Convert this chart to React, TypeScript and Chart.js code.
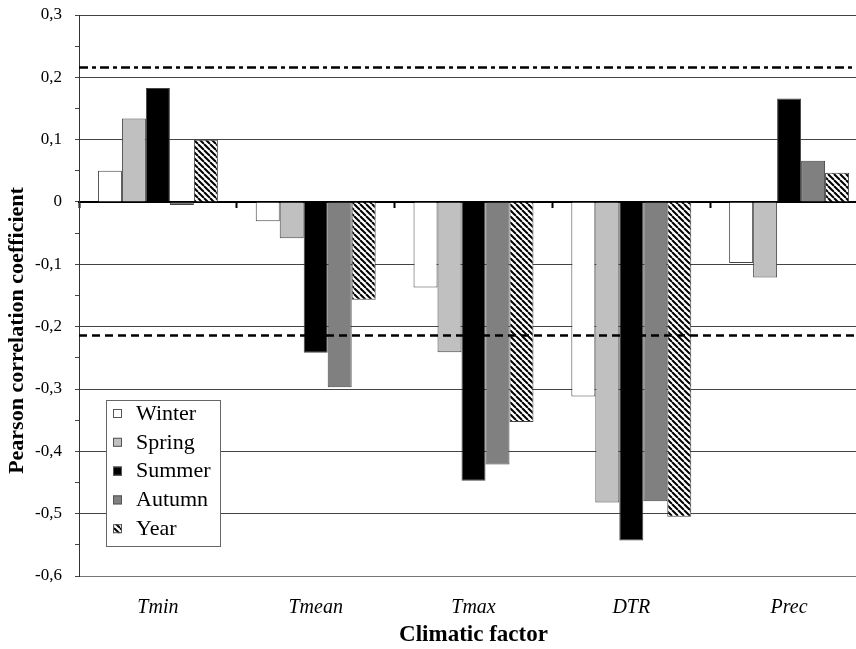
import React, { useEffect, useRef } from 'react';
import { Chart, registerables } from 'chart.js';
Chart.register(...registerables);

const categories = ['Tmin', 'Tmean', 'Tmax', 'DTR', 'Prec'];
const seriesNames = ['Winter', 'Spring', 'Summer', 'Autumn', 'Year'];
const winter = [0.05, -0.031, -0.137, -0.312, -0.098];
const spring = [0.134, -0.058, -0.241, -0.482, -0.121];
const summer = [0.183, -0.242, -0.447, -0.543, 0.166];
const autumn = [-0.005, -0.297, -0.421, -0.48, 0.066];
const year = [0.1, -0.157, -0.353, -0.505, 0.047];
const significance = [0.217, -0.214];
const yMin = -0.6;
const yMax = 0.3;
const yStep = 0.05;
const yTitle = 'Pearson correlation coefficient';
const xTitle = 'Climatic factor';

const SERIF = '"Liberation Serif", "Times New Roman", serif';

function makeHatch(): CanvasPattern | string {
  const s = 6;
  const c = document.createElement('canvas');
  c.width = s;
  c.height = s;
  const g = c.getContext('2d');
  if (!g) return '#fff';
  g.fillStyle = '#fff';
  g.fillRect(0, 0, s, s);
  g.strokeStyle = '#000';
  g.lineWidth = 2;
  for (const x0 of [-s, 0, s]) {
    g.beginPath();
    g.moveTo(x0, 0);
    g.lineTo(x0 + s, s);
    g.stroke();
  }
  const p = g.createPattern(c, 'repeat');
  return p || '#fff';
}

const isTenth = (v: number) => Math.abs(v * 10 - Math.round(v * 10)) < 1e-6;

export default function App() {
  const ref = useRef<HTMLCanvasElement | null>(null);
  useEffect(() => {
    if (!ref.current) return;
    const hatch = makeHatch();
    const fills = ['#ffffff', '#c0c0c0', '#000000', '#808080', hatch];
    const values = [winter, spring, summer, autumn, year];

    const refLines = {
      id: 'refLines',
      afterDatasetsDraw(chart: any) {
        const { ctx, chartArea, scales } = chart;
        ctx.save();
        ctx.strokeStyle = '#000';
        ctx.lineWidth = 2.5;
        significance.forEach((v, i) => {
          ctx.setLineDash(i === 0 ? [9, 4, 4, 4] : [8, 5]);
          const y = Math.round(scales.y.getPixelForValue(v)) + 0.5;
          ctx.beginPath();
          ctx.moveTo(chartArea.left, y);
          ctx.lineTo(chartArea.right, y);
          ctx.stroke();
        });
        ctx.restore();
      },
    };

    const yTitlePlugin = {
      id: 'yTitlePlugin',
      afterDraw(chart: any) {
        const { ctx, chartArea } = chart;
        ctx.save();
        ctx.translate(17, (chartArea.top + chartArea.bottom) / 2 + 35);
        ctx.rotate(-Math.PI / 2);
        ctx.font = 'bold 22px ' + SERIF;
        ctx.fillStyle = '#000';
        ctx.textAlign = 'center';
        ctx.textBaseline = 'middle';
        ctx.fillText(yTitle, 0, 0);
        ctx.restore();
      },
    };

    const boxLegend = {
      id: 'boxLegend',
      afterDraw(chart: any) {
        const { ctx, chartArea } = chart;
        const x = chartArea.left + 27;
        const y = chartArea.bottom - 176;
        const w = 114;
        const h = 146;
        ctx.save();
        ctx.fillStyle = '#fff';
        ctx.fillRect(x, y, w, h);
        ctx.strokeStyle = '#666';
        ctx.lineWidth = 1;
        ctx.strokeRect(x + 0.5, y + 0.5, w, h);
        ctx.font = '22px ' + SERIF;
        ctx.textBaseline = 'middle';
        chart.data.datasets.forEach((ds: any, i: number) => {
          const cy = y + 13 + i * 28.8;
          ctx.fillStyle = ds.backgroundColor;
          ctx.fillRect(x + 7, cy - 4, 9, 9);
          ctx.strokeStyle = '#555';
          ctx.strokeRect(x + 7.5, cy - 3.5, 8, 8);
          ctx.fillStyle = '#000';
          ctx.fillText(ds.label, x + 30, cy + 1);
        });
        ctx.restore();
      },
    };

    const chart = new Chart(ref.current, {
      type: 'bar',
      data: {
        labels: categories,
        datasets: seriesNames.map((name, i) => ({
          label: name,
          data: values[i],
          backgroundColor: fills[i] as any,
          borderColor: '#444',
          borderWidth: 1,
          borderSkipped: 'start' as const,
          categoryPercentage: 0.76,
          barPercentage: 1.0,
        })),
      },
      options: {
        animation: false,
        responsive: false,
        maintainAspectRatio: false,
        layout: { padding: { top: 15, right: 4, left: 34, bottom: 0 } },
        plugins: {
          legend: { display: false },
          tooltip: { enabled: false },
          title: { display: false },
        },
        scales: {
          x: {
            type: 'category',
            offset: true,
            grid: { display: false, offset: true, drawTicks: false },
            border: { display: true, color: '#777', width: 1 },
            ticks: {
              font: { family: SERIF, size: 20, style: 'italic' },
              color: '#000',
              padding: 20,
            },
            title: {
              display: true,
              text: xTitle,
              font: { family: SERIF, size: 23, weight: 'bold' },
              color: '#000',
              padding: { top: 0, bottom: 0 },
            },
            afterFit: (scale: any) => {
              scale.height = 73;
            },
          },
          x2: {
            type: 'category',
            axis: 'x',
            labels: categories,
            position: { y: 0 } as any,
            offset: true,
            grid: {
              offset: true,
              drawOnChartArea: false,
              drawTicks: true,
              tickLength: 5,
              tickWidth: 2,
              tickColor: '#000',
            },
            border: { display: true, color: '#000', width: 2 },
            ticks: { display: false },
          } as any,
          y: {
            min: yMin,
            max: yMax,
            ticks: {
              stepSize: yStep,
              autoSkip: false,
              color: '#000',
              font: { family: SERIF, size: 17 },
              padding: 13,
              callback: (v: any) => {
                const n = Number(v);
                if (!isTenth(n)) return '';
                if (Math.abs(n) < 1e-9) return '0';
                return n.toFixed(1).replace('.', ',');
              },
            },
            grid: {
              drawTicks: true,
              tickLength: 4,
              tickColor: '#444',
              color: (ctx: any) => {
                const v = ctx.tick ? ctx.tick.value : 0;
                if (Math.abs(v) < 1e-9) return 'rgba(0,0,0,0)';
                return isTenth(v) ? '#444' : 'rgba(0,0,0,0)';
              },
              lineWidth: 1,
            },
            border: { display: true, color: '#333', width: 1 },
            title: { display: false },
            afterFit: (scale: any) => {
              scale.width = 45;
              scale.paddingTop = 0;
              scale.paddingBottom = 0;
            },
          },
        },
      },
      plugins: [refLines, boxLegend, yTitlePlugin],
    });
    return () => chart.destroy();
  }, []);

  return (
    <div
      style={{
        position: 'fixed',
        left: 0,
        top: 0,
        width: 856,
        height: 649,
        overflow: 'hidden',
        background: '#fff',
      }}
    >
      <canvas ref={ref} width={872} height={649} style={{ display: 'block' }} />
    </div>
  );
}
